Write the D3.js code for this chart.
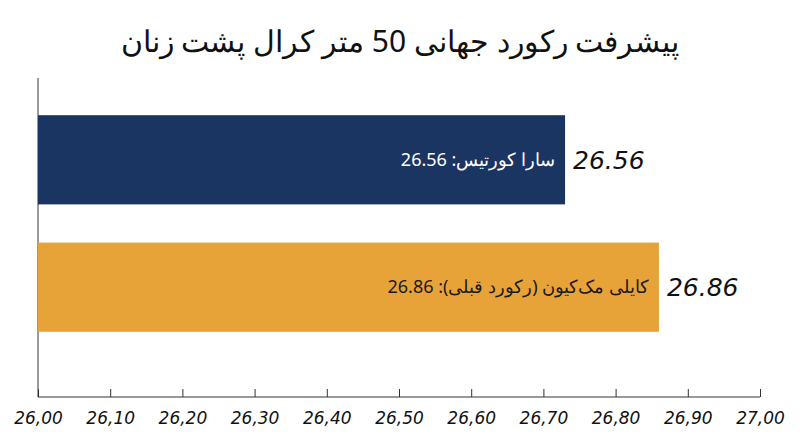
<!DOCTYPE html><html><head><meta charset="utf-8"><script src="https://cdn.jsdelivr.net/npm/d3@7"></script>
<style>body{margin:0;background:#fff}</style></head><body><svg id="c" width="800" height="447"></svg>
<script>
const categories=["سارا کورتیس","کایلی مک‌کیون (رکورد قبلی)"];
const recordTimes=[26.56,26.86];
const barLengths=[26.73,26.86];
const colors=["#1b3563","#e8a338"];
const textColors=["#ffffff","#1a1a1a"];
const tickValues=[26.0,26.1,26.2,26.3,26.4,26.5,26.6,26.7,26.8,26.9,27.0];
const title="پیشرفت رکورد جهانی 50 متر کرال پشت زنان";

const svg=d3.select("#c");
const x=d3.scaleLinear().domain([26,27]).range([38,760]);
const y=d3.scaleBand().domain(categories).range([105,342]).paddingInner(0.3).paddingOuter(0.08);
svg.append("text").attr("x",400).attr("y",52).attr("text-anchor","middle").attr("font-family","Noto Sans").attr("font-size",30).attr("fill","#111").attr("direction","rtl").text(title);
const ax=svg.append("g").attr("transform","translate(0,397)").call(d3.axisBottom(x).tickValues(tickValues).tickSize(-8).tickFormat(d3.format(".2f")));
ax.select(".domain").remove();
ax.append("line").attr("x1",38).attr("x2",760).attr("stroke","#333");
ax.selectAll(".tick line").attr("stroke","#333");
ax.selectAll(".tick text").attr("dy",24).attr("font-family","DejaVu Sans").attr("font-style","italic").attr("font-size",17).attr("fill","#111").text(d=>d3.format(".2f")(d).replace(".",","));
svg.append("line").attr("x1",38).attr("x2",38).attr("y1",78).attr("y2",397).attr("stroke","#333");
categories.forEach((c,i)=>{
  svg.append("rect").attr("x",x(26)).attr("y",y(c)).attr("width",x(barLengths[i])-x(26)).attr("height",y.bandwidth()).attr("fill",colors[i]);
  svg.append("text").attr("x",x(barLengths[i])-10).attr("y",y(c)+y.bandwidth()/2+6).attr("text-anchor","start").attr("direction","rtl").attr("font-family","Noto Sans").attr("font-size",18).attr("fill",textColors[i]).text(c+": "+recordTimes[i]);
  svg.append("text").attr("x",x(barLengths[i])+8).attr("y",y(c)+y.bandwidth()/2+9).attr("font-family","DejaVu Sans").attr("font-style","italic").attr("font-size",25).attr("fill","#111").text(recordTimes[i].toFixed(2));
});
</script></body></html>
